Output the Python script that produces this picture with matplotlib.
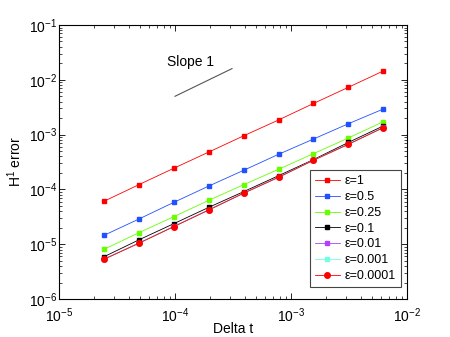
import numpy as np
import matplotlib
matplotlib.use("Agg")
import matplotlib.pyplot as plt
from matplotlib.ticker import LogLocator, NullFormatter

plt.rcParams['font.family'] = ['Liberation Sans', 'DejaVu Sans']
plt.rcParams['mathtext.default'] = 'regular'

dt = [6.25e-3 / 2**k for k in range(8, -1, -1)]

labels = ['ε=1', 'ε=0.5', 'ε=0.25', 'ε=0.1', 'ε=0.01', 'ε=0.001', 'ε=0.0001']
err_1 = [6.07e-5, 1.22e-4, 2.43e-4, 4.8e-4, 9.5e-4, 1.85e-3, 3.7e-3, 7.3e-3, 1.45e-2]
err_05 = [1.45e-5, 2.88e-5, 5.8e-5, 1.15e-4, 2.23e-4, 4.37e-4, 8.3e-4, 1.58e-3, 2.93e-3]
err_025 = [8.07e-6, 1.62e-5, 3.18e-5, 6.3e-5, 1.22e-4, 2.33e-4, 4.49e-4, 8.67e-4, 1.72e-3]
err_01 = [5.9e-6, 1.2e-5, 2.37e-5, 4.7e-5, 9.1e-5, 1.78e-4, 3.5e-4, 7.2e-4, 1.44e-3]
err_001 = [5.35e-6, 1.05e-5, 2.11e-5, 4.25e-5, 8.6e-5, 1.68e-4, 3.43e-4, 6.7e-4, 1.35e-3]
err_0001 = [5.3e-6, 1.04e-5, 2.09e-5, 4.2e-5, 8.5e-5, 1.66e-4, 3.4e-4, 6.65e-4, 1.34e-3]
err_00001 = [5.3e-6, 1.04e-5, 2.09e-5, 4.2e-5, 8.5e-5, 1.66e-4, 3.4e-4, 6.65e-4, 1.34e-3]

slope_x = [1e-4, 3.1e-4]
slope_y = [5e-3, 1.6e-2]

series = [err_1, err_05, err_025, err_01, err_001, err_0001, err_00001]
colors = ['#ff0000', '#2050ff', '#66ff00', '#000000', '#b040ff', '#70ffe0', '#ff0000']
markers = ['s', 's', 's', 's', 's', 's', 'o']

fig = plt.figure(figsize=(4.5, 3.37), dpi=100)
ax = fig.add_axes([59/450, 1-299/337, 348/450, 274/337])

for y, c, m, lab in zip(series, colors, markers, labels):
    ax.loglog(dt, y, color=c, marker=m, markersize=3.3 if m == 's' else 4.0,
              linewidth=0.6, label=lab,
              markeredgecolor=c, markerfacecolor=c)

ax.loglog(slope_x, slope_y, color='#555555', linewidth=0.8)
ax.text(8.5e-5, 2.1e-2, 'Slope 1', fontsize=10, va='center', ha='left')

ax.set_xlim(1e-5, 1e-2)
ax.set_ylim(1e-6, 1e-1)
ax.xaxis.set_major_locator(LogLocator(base=10, numticks=10))
ax.yaxis.set_major_locator(LogLocator(base=10, numticks=10))
ax.xaxis.set_minor_locator(LogLocator(base=10, subs=np.arange(2, 10), numticks=20))
ax.yaxis.set_minor_locator(LogLocator(base=10, subs=np.arange(2, 10), numticks=20))
ax.xaxis.set_minor_formatter(NullFormatter())
ax.yaxis.set_minor_formatter(NullFormatter())
ax.tick_params(which='both', direction='in', top=True, right=True, labelsize=10)
ax.tick_params(which='major', length=4, width=0.6)
ax.tick_params(which='minor', length=2.2, width=0.5)
ax.tick_params(axis='y', which='major', pad=1.5)
ax.tick_params(axis='x', which='major', pad=5)
for s in ax.spines.values():
    s.set_linewidth(0.8)

ax.set_xlabel('Delta t', fontsize=10, labelpad=-1.5)
ax.set_ylabel('H$^1$ error', fontsize=10, labelpad=3)

leg = ax.legend(loc='lower right', bbox_to_anchor=(0.983, 0.044), borderaxespad=0,
                fontsize=9, fancybox=False, edgecolor='#444444', framealpha=1,
                handlelength=2.0, handletextpad=0.4, labelspacing=0.3, borderpad=0.4)
leg.get_frame().set_linewidth(0.8)

fig.savefig('out.png', dpi=100)
